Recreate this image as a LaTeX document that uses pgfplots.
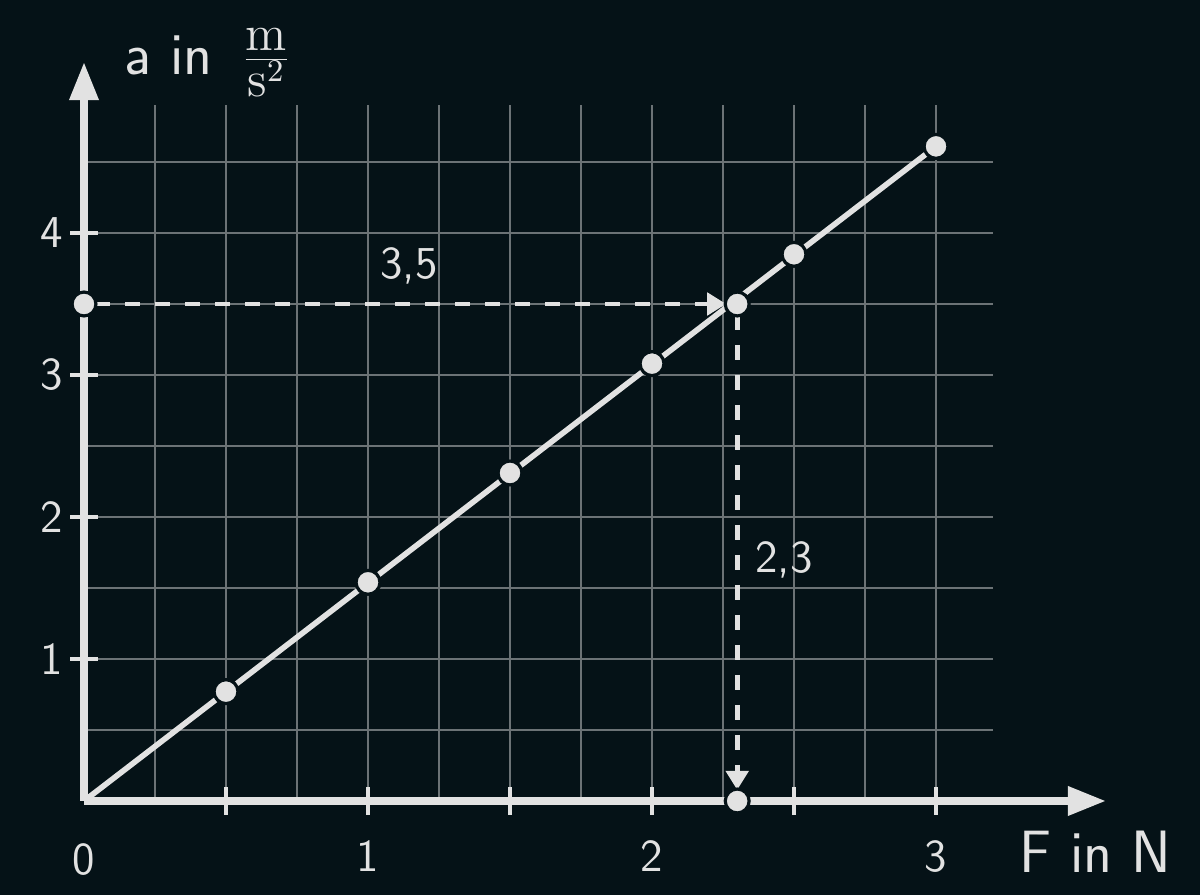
\documentclass[border=0pt]{standalone}
\usepackage{pgfplots}
\pgfplotsset{compat=1.18}
\usetikzlibrary{arrows.meta,backgrounds}
\definecolor{bg}{HTML}{051217}
\definecolor{fg}{HTML}{E2E2E2}
\definecolor{gridc}{HTML}{6C7376}
\begin{document}
\begin{tikzpicture}
\begin{axis}[
  x=2.84cm, y=1.42cm,
  xmin=0, xmax=3.2, ymin=0, ymax=4.9,
  axis lines=middle,
  axis line style={fg, line width=2pt, -{Triangle[length=3.8mm,width=2.8mm]}},
  x axis line style={shorten >=-1.13cm},
  y axis line style={shorten >=-0.43cm},
  xtick={0.5,1,1.5,2,2.5,3},
  xticklabels={,1,,2,,3},
  minor xtick={0.25,0.75,1.25,1.75,2.25,2.75},
  ytick={1,2,3,4},
  minor ytick={0.5,1.5,2.5,3.5,4.5},
  extra x ticks={0}, extra x tick labels={0},
  extra x tick style={major tick length=0pt, grid=none,
    xticklabel style={yshift=-0.17cm}},
  hide obscured x ticks=false,
  grid=both,
  major grid style={gridc, line width=0.6pt},
  minor grid style={gridc, line width=0.6pt},
  tick align=center,
  major tick length=0.28cm,
  minor tick length=0pt,
  tick style={fg, line width=1.4pt},
  ticklabel style={font=\fontsize{13}{15}\selectfont\sffamily, text=fg},
  /pgf/number format/assume math mode=true,
  xticklabel style={anchor=north, yshift=-0.13cm},
  yticklabel style={anchor=east, xshift=0.05cm},
  clip=false,
]
% background corners (whole picture)
\coordinate (bl) at (axis cs:-0.2958,-0.662);
\coordinate (tr) at (axis cs:3.9296,5.641);

% straight line a(F)
\addplot[fg, line width=1.6pt] coordinates {(0,0) (3,4.61)};

% reading lines
\addplot[fg, line width=1.4pt, dash pattern=on 1.5mm off 1.5mm,
  -{Triangle[length=1.9mm,width=2.2mm]}, shorten >=1.1mm, shorten <=1.1mm]
  coordinates {(0,3.5) (2.3,3.5)};
\addplot[fg, line width=1.4pt, dash pattern=on 1.5mm off 1.5mm,
  -{Triangle[length=1.9mm,width=2.2mm]}, shorten >=1.1mm, shorten <=1.1mm]
  coordinates {(2.3,3.5) (2.3,0)};

% measured points
\addplot[only marks, mark=*, mark size=3.4pt,
  mark options={fill=fg, draw=bg, line width=0.9pt}]
  coordinates {(0.5,0.77) (1,1.54) (1.5,2.31) (2,3.08) (2.3,3.5)
               (2.5,3.85) (3,4.61) (0,3.5) (2.3,0)};

\node[text=fg, font=\fontsize{13}{15}\selectfont\sffamily] at (axis cs:1.144,3.77) {3,5};
\node[anchor=west, text=fg, font=\fontsize{13}{15}\selectfont\sffamily] at (axis cs:2.32,1.70) {2,3};
\node[anchor=west, text=fg, font=\fontsize{17}{20}\selectfont\sffamily] at (axis cs:0.10,5.20)
  {a\ in\ \,{\fontsize{19}{22}\selectfont$\frac{\mathrm{m}}{\mathrm{s}^2}$}};
\node[anchor=east, text=fg, font=\fontsize{17}{20}\selectfont\sffamily] at (axis cs:3.87,-0.36)
  {F in N};
\end{axis}
\begin{pgfonlayer}{background}
\fill[bg] (bl) rectangle (tr);
\end{pgfonlayer}
\end{tikzpicture}
\end{document}
